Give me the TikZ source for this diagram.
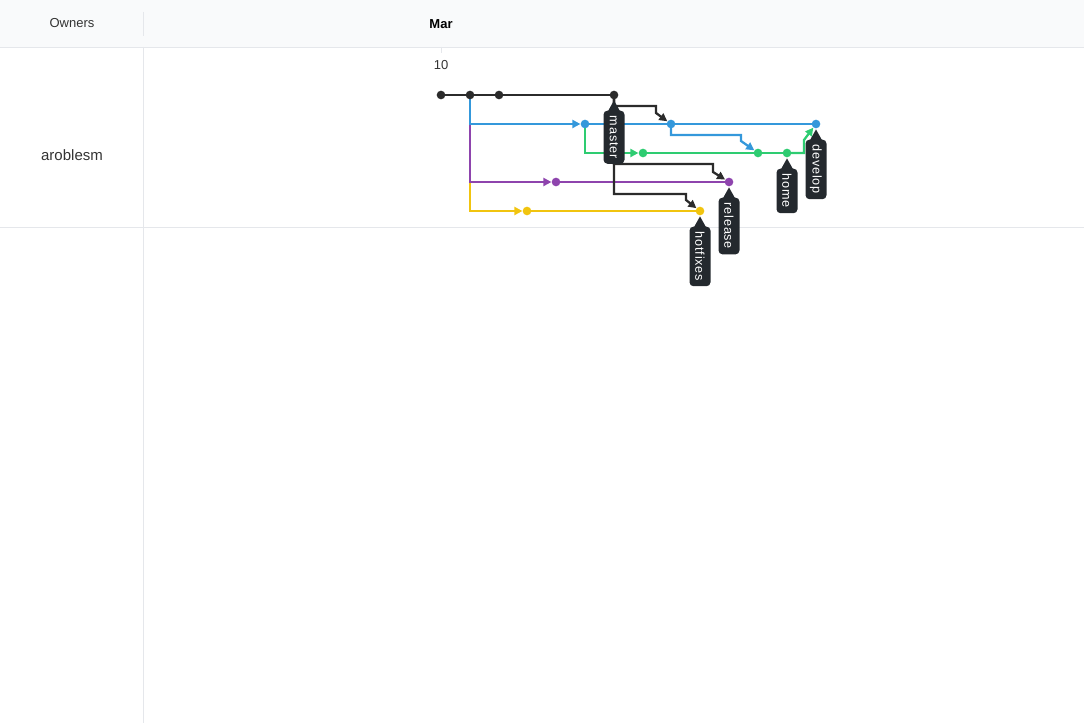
\documentclass[tikz,border=0pt]{standalone}
\usepackage{fontspec}
\setmainfont{Liberation Sans}
\usepackage{xcolor}
\usetikzlibrary{arrows.meta}

\definecolor{gitblack}{HTML}{2B2B2B}
\definecolor{gitblue}{HTML}{3498DB}
\definecolor{gitgreen}{HTML}{2ECC71}
\definecolor{gitpurple}{HTML}{8E44AD}
\definecolor{gityellow}{HTML}{F1C40F}
\definecolor{tagbg}{HTML}{24292E}
\definecolor{gridline}{HTML}{E5E7EB}
\definecolor{headbg}{HTML}{F9FAFB}
\definecolor{labeltext}{HTML}{333333}

\pgfdeclarelayer{edges}
\pgfsetlayers{edges,main}

% branch label hanging below a commit
\newcommand{\branchtag}[3]{%
  \node[tag, anchor=west] (#2) at ([yshift=-11.5pt]#1.center) {#3};
  \fill[tagbg] ([xshift=-5pt,yshift=-1.5pt]#2.west) -- ([yshift=-0.6pt]#1.south)
    -- ([xshift=5pt,yshift=-1.5pt]#2.west) -- cycle;}

\begin{document}
\begin{tikzpicture}[x=0.75pt, y=-0.75pt,
    commit/.style={circle, fill=#1, inner sep=0pt, minimum size=6.5pt},
    gline/.style={draw=#1, line width=1.7pt},
    tip/.style={-{Triangle[length=6pt,width=6pt]}},
    tag/.style={fill=tagbg, text=white, rounded corners=3pt, rotate=-90,
      inner xsep=4pt, inner ysep=0pt, minimum height=15.75pt,
      font=\fontsize{9.5}{11}\selectfont\addfontfeatures{LetterSpace=6}},
    head/.style={text=labeltext, font=\fontsize{9.75}{11}\selectfont}]
\useasboundingbox (0,0) rectangle (1084,723);

% header and grid
\fill[headbg] (0,0) rectangle (1084,47);
\draw[gridline] (0,47) -- (1084,47);
\draw[gridline] (143,12) -- (143,36);
\draw[gridline] (143,47) -- (143,723);
\draw[gridline] (0,227) -- (1084,227);
\draw[gridline] (441,47) -- (441,53);
\node[head] (owners) at (72,23) {Owners};
\node[head, text=black, font=\fontsize{9.75}{11}\selectfont\bfseries] (month) at (441,24) {Mar};
\node[head] (day) at (441,65) {10};
\node[head, font=\fontsize{11.25}{13}\selectfont] (owner) at (72,155) {aroblesm};

% commits
\node[commit=gitblack] (m1) at (441,95) {};
\node[commit=gitblack] (m2) at (470,95) {};
\node[commit=gitblack] (m3) at (499,95) {};
\node[commit=gitblack] (m4) at (614,95) {};
\node[commit=gitblue] (b1) at (585,124) {};
\node[commit=gitblue] (b2) at (671,124) {};
\node[commit=gitblue] (b3) at (816,124) {};
\node[commit=gitgreen] (g1) at (643,153) {};
\node[commit=gitgreen] (g2) at (758,153) {};
\node[commit=gitgreen] (g3) at (787,153) {};
\node[commit=gitpurple] (p1) at (556,182) {};
\node[commit=gitpurple] (p2) at (729,182) {};
\node[commit=gityellow] (y1) at (527,211) {};
\node[commit=gityellow] (y2) at (700,211) {};

\begin{pgfonlayer}{edges}
\draw[gline=gityellow, tip] (m2.center) |- (y1);
\draw[gline=gitpurple, tip] (m2.center) |- (p1);
\draw[gline=gitblue, tip] (m2.center) |- (b1);
\draw[gline=gitgreen, tip] (b1.center) |- (g1);
\draw[gline=gitblack] (m1.center) -- (m4.center);
\draw[gline=gitblue] (b1.center) -- (b3.center);
\draw[gline=gitgreen] (g1.center) -- (g3.center);
\draw[gline=gitpurple] (p1.center) -- (p2.center);
\draw[gline=gityellow] (y1.center) -- (y2.center);
% merges
\draw[gline=gitblack, tip] (m4.center) |- ++(42,11) -- ++(0,7) -- (b2);
\draw[gline=gitblack, tip] (m4.center) |- ++(99,69) -- ++(0,8) -- (p2);
\draw[gline=gitblack, tip] (m4.center) |- ++(72,99) -- ++(0,6) -- (y2);
\draw[gline=gitblue, tip] (b2.center) |- ++(70,11) -- ++(0,6) -- (g2);
\draw[gline=gitgreen, tip] (g3.center) -- ++(17,0) -- ++(0,-13) -- (b3);
\end{pgfonlayer}

% branch labels
\branchtag{m4}{tagmaster}{master}
\branchtag{b3}{tagdevelop}{develop}
\branchtag{g3}{taghome}{home}
\branchtag{p2}{tagrelease}{release}
\branchtag{y2}{taghotfixes}{hotfixes}
\end{tikzpicture}
\end{document}
